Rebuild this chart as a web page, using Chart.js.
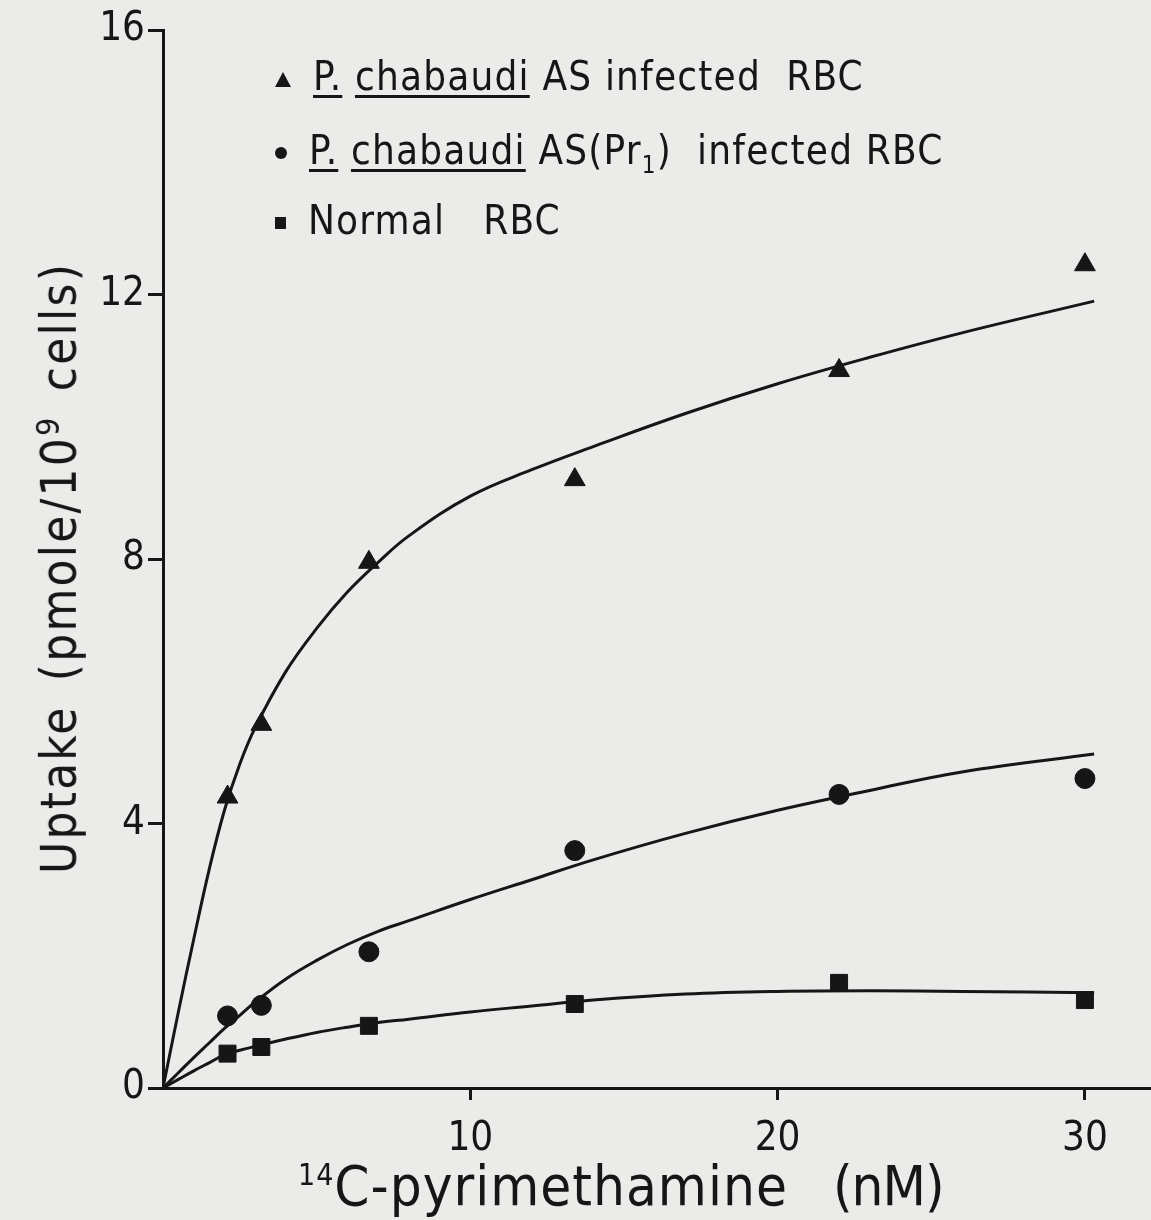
<!DOCTYPE html>
<html>
<head>
<meta charset="utf-8">
<script src="https://cdn.jsdelivr.net/npm/chart.js@4.4.0/dist/chart.umd.min.js"></script>
<style>
  body { margin: 0; background: #ebebe9; }
  #wrap { position: relative; width: 1151px; height: 1220px; overflow: hidden;
    font-family: 'DejaVu Sans Condensed', 'DejaVu Sans', sans-serif; color: #161616; }
  #chart { position: absolute; left: 0; top: 0; }
  .row { position: absolute; left: 275px; font-size: 40px; letter-spacing: 1.2px; white-space: nowrap; line-height: 1; }
  .row u { text-decoration-thickness: 3px; text-underline-offset: 5px; }
  .row sub { font-size: 24px; }
  .mk { display: inline-block; margin-right: 22px; vertical-align: middle; background: #161616; }
  .tri { width: 0; height: 0; background: none; border-left: 8px solid transparent;
    border-right: 8px solid transparent; border-bottom: 15px solid #161616; }
  .dot { width: 12px; height: 12px; border-radius: 50%; }
  .sq { width: 11px; height: 12px; }
  #ytitle { position: absolute; left: 58px; top: 568px; font-size: 49px; letter-spacing: 2.2px; line-height: 1;
    white-space: nowrap; transform: translate(-50%, -50%) rotate(-90deg); word-spacing: 8px; }
  #ytitle sup { font-size: 32px; }
  #xtitle { position: absolute; left: 298px; top: 1158px; font-size: 56px; letter-spacing: 1px; line-height: 1; white-space: nowrap; }
  #xtitle sup { font-size: 30px; }
  #xtitle .unit { letter-spacing: -1px; }
</style>
</head>
<body>
<div id="wrap">
  <canvas id="chart" width="1151" height="1220"></canvas>
  <div class="row" style="top:56px"><span class="mk tri"></span><u>P.</u> <u>chabaudi</u> AS infected&nbsp; RBC</div>
  <div class="row" style="top:130px"><span class="mk dot"></span><u>P.</u> <u>chabaudi</u> AS(Pr<sub>1</sub>)&nbsp; infected RBC</div>
  <div class="row" style="top:200px"><span class="mk sq"></span>Normal&nbsp;&nbsp; RBC</div>
  <div id="ytitle">Uptake (pmole/10<sup>9</sup> cells)</div>
  <div id="xtitle"><sup>14</sup>C-pyrimethamine<span class="unit">&nbsp;&nbsp;&nbsp;(nM)</span></div>
</div>
<script>
'use strict';

//***************** Data *****************
let seriesLabels = ['P. chabaudi AS infected RBC', 'P. chabaudi AS(Pr1) infected RBC', 'Normal RBC'];

// measured points
let concentration = [2.1, 3.2, 6.7, 13.4, 22, 30];
let uptakeInfected = [4.4, 5.5, 7.95, 9.2, 10.85, 12.45];
let uptakePr1 = [1.09, 1.25, 2.06, 3.59, 4.44, 4.68];
let uptakeNormal = [0.52, 0.62, 0.94, 1.27, 1.59, 1.33];

// fitted curves
let fitX = [0, 0.5, 1, 1.5, 2, 2.5, 3, 4, 5, 6, 7, 8, 10, 12, 14, 17, 20, 23, 26, 30.3];
let fitInfected = [0, 1.15, 2.25, 3.3, 4.2, 4.9, 5.45, 6.3, 6.95, 7.5, 7.95, 8.35, 8.95, 9.35, 9.7, 10.2, 10.65, 11.05, 11.42, 11.9];
let fitPr1 = [0, 0.23, 0.46, 0.68, 0.9, 1.1, 1.3, 1.65, 1.93, 2.17, 2.37, 2.53, 2.85, 3.15, 3.45, 3.85, 4.2, 4.5, 4.78, 5.05];
let fitNormal = [0, 0.13, 0.26, 0.38, 0.5, 0.57, 0.63, 0.74, 0.84, 0.92, 0.99, 1.04, 1.15, 1.24, 1.33, 1.42, 1.46, 1.47, 1.46, 1.44];

let xTicks = [0, 10, 20, 30];
let yTicks = [0, 4, 8, 12, 16];

//***************** Helpers *****************
let ink = '#161616';
let fontFamily = "'DejaVu Sans Condensed', 'DejaVu Sans', sans-serif";

function toPoints(xs, ys) {
  let pts = [];
  for (let i = 0; i < xs.length; i++) {
    pts.push({ x: xs[i], y: ys[i] });
  }
  return pts;
}

function curve(label, ys) {
  return {
    label: label + ' fit',
    data: toPoints(fitX, ys),
    borderColor: ink,
    borderWidth: 3,
    pointRadius: 0,
    tension: 0.4,
    showLine: true
  };
}

function marks(label, ys, style, radius) {
  return {
    label: label,
    data: toPoints(concentration, ys),
    showLine: false,
    pointStyle: style,
    pointRadius: radius,
    pointBackgroundColor: ink,
    pointBorderColor: ink,
    pointBorderWidth: 1
  };
}

//***************** Chart *****************
let ctx = document.getElementById('chart');

new Chart(ctx, {
  type: 'scatter',
  data: {
    datasets: [
      curve(seriesLabels[0], fitInfected),
      curve(seriesLabels[1], fitPr1),
      curve(seriesLabels[2], fitNormal),
      marks(seriesLabels[0], uptakeInfected, 'triangle', 12),
      marks(seriesLabels[1], uptakePr1, 'circle', 10),
      marks(seriesLabels[2], uptakeNormal, 'rect', 12)
    ]
  },
  options: {
    responsive: false,
    animation: false,
    layout: { autoPadding: false, padding: { top: 30, right: 0, left: 0, bottom: 0 } },
    plugins: { legend: { display: false }, tooltip: { enabled: false } },
    scales: {
      x: {
        type: 'linear',
        min: 0,
        max: 32.15,
        afterBuildTicks: (scale) => { scale.ticks = xTicks.map(v => ({ value: v })); },
        afterFit: (scale) => {
          scale.height = 132;
          scale.paddingRight = 0;
          scale.paddingLeft = 0;
        },
        border: { display: true, color: ink, width: 3 },
        grid: {
          drawOnChartArea: false,
          tickLength: 12,
          tickWidth: 3,
          tickColor: (c) => (c.tick && c.tick.value === 0 ? 'rgba(0,0,0,0)' : ink)
        },
        ticks: {
          color: ink,
          padding: 16,
          font: { family: fontFamily, size: 40 },
          callback: (v) => (v === 0 ? '' : v)
        }
      },
      y: {
        min: 0,
        max: 16,
        afterBuildTicks: (scale) => { scale.ticks = yTicks.map(v => ({ value: v })); },
        afterFit: (scale) => { scale.width = 163; },
        border: { display: true, color: ink, width: 3 },
        grid: {
          drawOnChartArea: false,
          tickLength: 15,
          tickWidth: 3,
          tickColor: ink
        },
        ticks: {
          color: ink,
          padding: 3,
          font: { family: fontFamily, size: 40 }
        }
      }
    }
  }
});
</script>
</body>
</html>
